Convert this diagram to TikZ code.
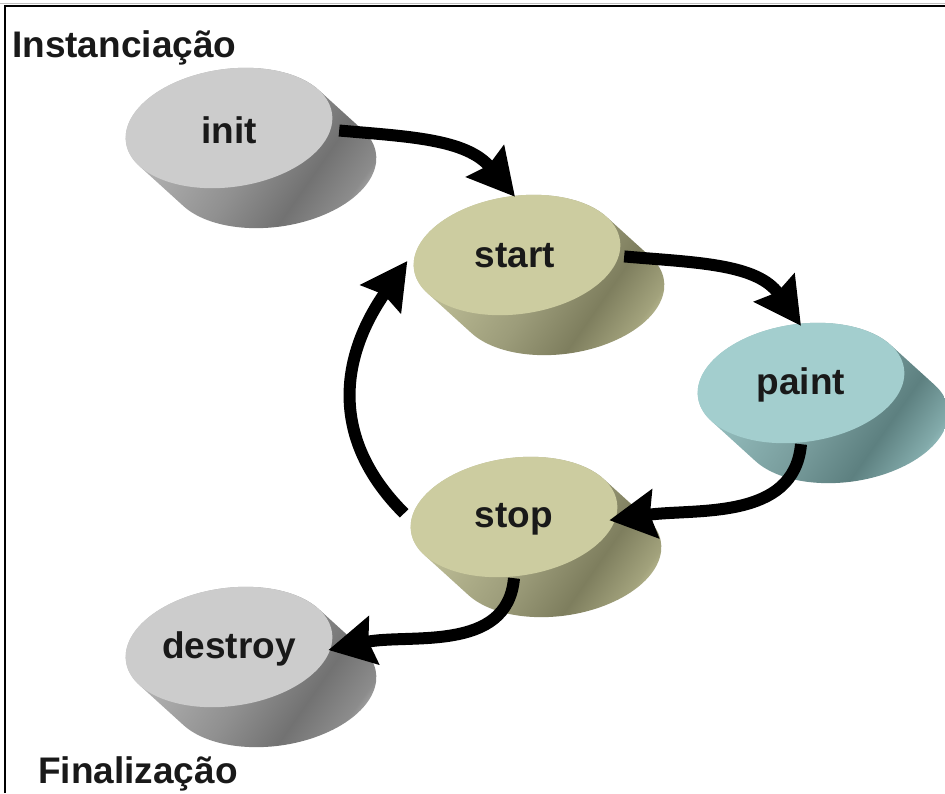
\documentclass[tikz,border=0pt]{standalone}
\usepackage{fontspec}
\setmainfont{Liberation Sans}
\usetikzlibrary{shapes.geometric,arrows.meta}

\definecolor{gA}{HTML}{C8C8C8}\definecolor{gB}{HTML}{ABABAB}\definecolor{gC}{HTML}{909090}
\definecolor{gD}{HTML}{727272}\definecolor{gE}{HTML}{8C8C8C}\definecolor{gF}{HTML}{F8F8F8}
\definecolor{kA}{HTML}{D2D2AA}\definecolor{kB}{HTML}{B6B690}\definecolor{kC}{HTML}{9C9C7A}
\definecolor{kD}{HTML}{7E7E5E}\definecolor{kE}{HTML}{A2A27C}\definecolor{kF}{HTML}{FAFACC}
\definecolor{tA}{HTML}{AAD2D2}\definecolor{tB}{HTML}{8EB6B6}\definecolor{tC}{HTML}{789C9C}
\definecolor{tD}{HTML}{5D8080}\definecolor{tE}{HTML}{82AAAA}\definecolor{tF}{HTML}{CCFAFA}
\definecolor{greytop}{HTML}{CCCCCC}
\definecolor{khakitop}{HTML}{CCCCA0}
\definecolor{tealtop}{HTML}{A3CECE}

\pgfdeclarehorizontalshading{greyside}{100bp}{color(0bp)=(gA); color(20bp)=(gA); color(38bp)=(gB); color(52bp)=(gC); color(64bp)=(gD); color(73bp)=(gE); color(82bp)=(gF); color(100bp)=(gF)}
\pgfdeclarehorizontalshading{khakiside}{100bp}{color(0bp)=(kA); color(20bp)=(kA); color(38bp)=(kB); color(52bp)=(kC); color(64bp)=(kD); color(73bp)=(kE); color(82bp)=(kF); color(100bp)=(kF)}
\pgfdeclarehorizontalshading{tealside}{100bp}{color(0bp)=(tA); color(20bp)=(tA); color(38bp)=(tB); color(52bp)=(tC); color(64bp)=(tD); color(73bp)=(tE); color(82bp)=(tF); color(100bp)=(tF)}

\newcommand\cylbody[3]{%
  \begin{scope}[shift={#1},rotate=8]
    \shade[shading=#2,shading angle=-35]
      (205.3:104 and 59) -- ++(38,-45.7)
      arc[start angle=205.3,end angle=385.3,x radius=104,y radius=59]
      -- (25.3:104 and 59)
      arc[start angle=25.3,end angle=205.3,x radius=104,y radius=59] -- cycle;
    \fill[#3] (0,0) ellipse[x radius=104,y radius=59];
  \end{scope}}

\tikzset{
  disk/.style={ellipse,minimum width=208pt,minimum height=118pt,inner sep=0pt,
    text=black!90,font=\bfseries\fontsize{37}{40}\selectfont},
  heading/.style={anchor=base west,inner sep=0pt,text=black!90,font=\bfseries\fontsize{37}{40}\selectfont},
  arr/.style={line width=12pt,-{Stealth[length=46pt,width=48pt,inset=5pt]}}
}

\begin{document}
\begin{tikzpicture}[x=1pt,y=1pt]
\useasboundingbox (0,0) rectangle (945,-793);
\fill[white] (0,0) rectangle (945,-793);

% frame
\draw[black!25,line width=0.8pt] (0,-3.2) -- (945,-3.2);
\draw[line width=2.4pt] (5,-793) -- (5,-6) -- (945,-6);

% cylinder bodies
\cylbody{(229,-128)}{greyside}{greytop}
\cylbody{(517,-255)}{khakiside}{khakitop}
\cylbody{(801,-383)}{tealside}{tealtop}
\cylbody{(514,-517)}{khakiside}{khakitop}
\cylbody{(229,-647)}{greyside}{greytop}

% labelled nodes
\node[disk] (init) at (229,-130) {init};
\node[disk] (start) at (515,-256) {start};
\node[disk] (paint) at (801,-385) {paint};
\node[disk] (stop) at (514,-519) {stop};
\node[disk] (destroy) at (229,-649) {destroy};

\node[heading] (inst) at (12,-57) {Instanciação};
\node[heading] (fin) at (38,-783) {Finalização};

% connectors
\draw[arr,shorten <=6pt] (init.east) to[out=-5,in=130] (start.north);
\draw[arr,shorten <=5pt] (start.east) to[out=-5,in=125] (paint.north);
\draw[arr,shorten >=-9pt] (paint.south) to[out=-95,in=8] (stop.east);
\draw[arr,shorten <=8pt,shorten >=6pt] (stop.west) to[out=135,in=-125,looseness=1.15] (start.west);
\draw[arr,shorten >=-5pt] (stop.south) to[out=-95,in=12] (destroy.east);
\end{tikzpicture}
\end{document}
